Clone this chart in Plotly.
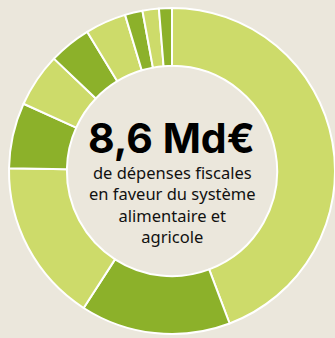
import plotly.graph_objects as go

# Dépenses fiscales en faveur du système alimentaire et agricole (Md€)
postes = [f"Poste {i}" for i in range(1, 11)]
montants = [3.81, 1.28, 1.39, 0.56, 0.46, 0.36, 0.35, 0.15, 0.14, 0.11]
total_label = "8,6 Md€"
sous_titre = ["de dépenses fiscales", "en faveur du système", "alimentaire et", "agricole"]

CLAIR = "#cddb6a"
FONCE = "#8cb12a"
FOND = "#ebe7dc"
couleurs = [CLAIR if i % 2 == 0 else FONCE for i in range(len(montants))]

W, H = 335, 338

fig = go.Figure(
    go.Pie(
        labels=postes,
        values=montants,
        hole=0.645,
        sort=False,
        direction="clockwise",
        rotation=0,
        marker=dict(colors=couleurs, line=dict(color="white", width=2)),
        textinfo="none",
        hoverinfo="label+value",
        showlegend=False,
        domain=dict(x=[9 / W, 1.0], y=[4 / H, 330 / H]),
    )
)

fig.add_annotation(
    text=f"<b>{total_label}</b>",
    x=171 / W, y=(H - 138) / H, xref="paper", yref="paper",
    xanchor="center", yanchor="middle", showarrow=False,
    font=dict(family="Inter", size=41, color="#000000", weight=900),
)
fig.add_annotation(
    text="<br>".join(sous_titre),
    x=172 / W, y=(H - 204) / H, xref="paper", yref="paper",
    xanchor="center", yanchor="middle", showarrow=False,
    font=dict(family="Noto Sans", size=16.5, color="#111111"),
)

fig.update_layout(
    width=W, height=H,
    margin=dict(l=0, r=0, t=0, b=0),
    paper_bgcolor=FOND,
    plot_bgcolor=FOND,
)

fig.write_html("out.html", config={"displayModeBar": False})
